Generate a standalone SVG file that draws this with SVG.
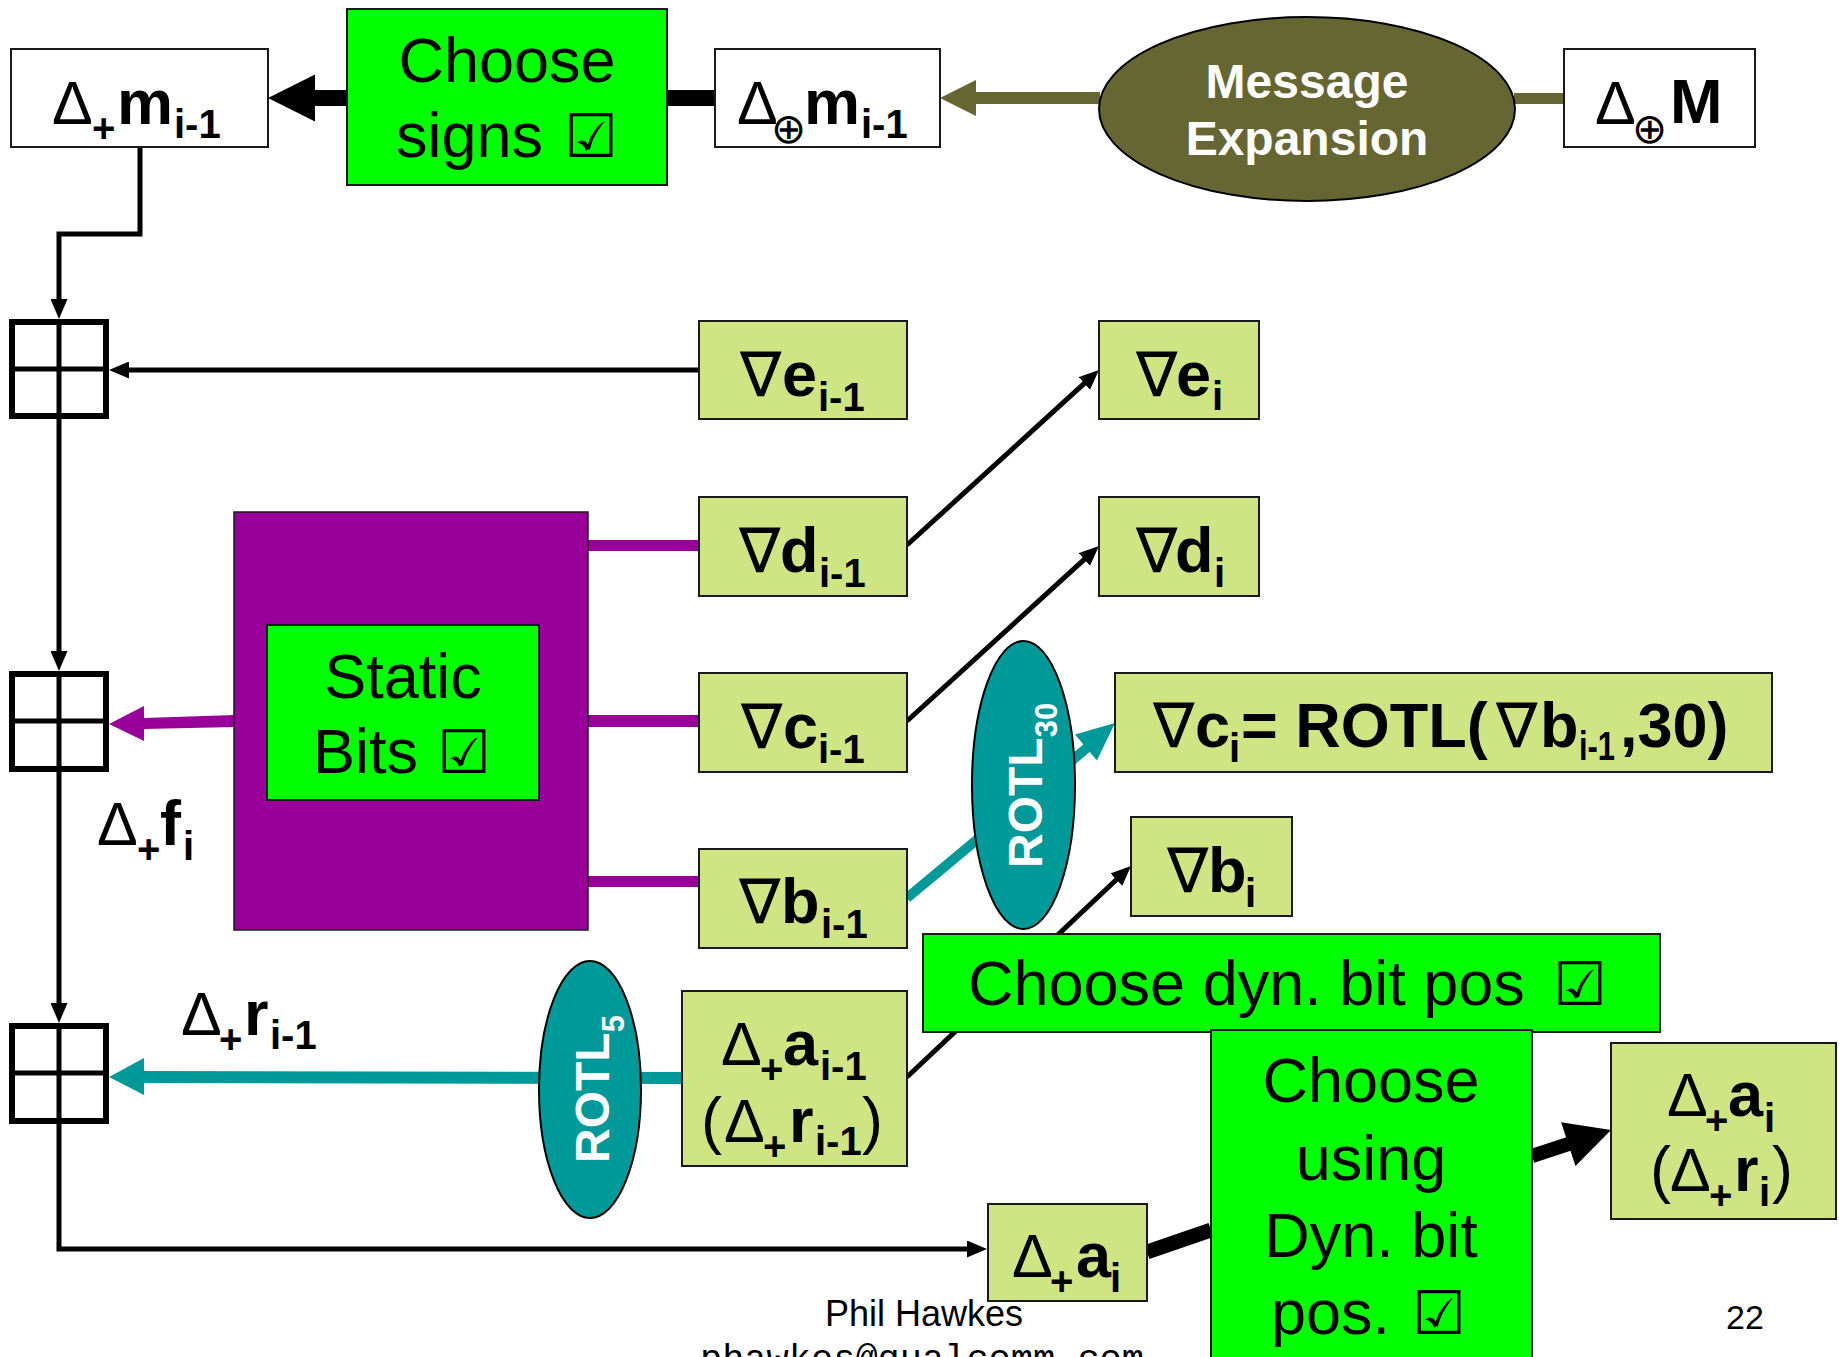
<svg xmlns="http://www.w3.org/2000/svg" width="1839" height="1357" viewBox="0 0 1839 1357">
<defs>
<style>
.box{stroke:#1a1a1a;stroke-width:2}
.w{fill:#fff}
.g{fill:#00ff00}
.lg{fill:#cfe584}
text{font-family:"Liberation Sans",Arial,sans-serif;fill:#000}
.t{font-size:63px}
.bd{font-weight:bold}
.d{font-size:61px;font-weight:normal}
.nab{font-family:"DejaVu Sans",sans-serif;font-size:62px;font-weight:normal}
.sub{font-size:40px;font-weight:bold}
.chk{font-family:"DejaVu Sans",sans-serif;font-size:60px;font-weight:normal}
.ox{font-family:"DejaVu Sans",sans-serif;font-size:42px;font-weight:normal}
.mid{text-anchor:middle}
.wt{fill:#fff;font-weight:bold}
.conn{fill:none;stroke:#000;stroke-width:5}
.adder{fill:#fff;stroke:#000;stroke-width:6}
.cross{stroke:#000;stroke-width:5}
</style>
<marker id="ah" markerUnits="userSpaceOnUse" markerWidth="20" markerHeight="17" refX="2" refY="8.5" orient="auto"><path d="M0,0 L20,8.5 L0,17 Z" fill="#000"/></marker>
</defs>
<rect width="1839" height="1357" fill="#fff"/>

<g id="connectors">
  <path class="conn" d="M140,147 V234 H59 V301" marker-end="url(#ah)"/>
  <path class="conn" d="M699,370 H127" marker-end="url(#ah)"/>
  <path class="conn" d="M59,419 V653" marker-end="url(#ah)"/>
  <path class="conn" d="M59,772 V1005" marker-end="url(#ah)"/>
  <path class="conn" d="M59,1124 V1249 H969" marker-end="url(#ah)"/>
  <path class="conn" stroke-width="4.5" d="M907,545 L1085.7,382.1" marker-end="url(#ah)"/>
  <path class="conn" stroke-width="4.5" d="M907,721 L1085.7,558.1" marker-end="url(#ah)"/>
  <path class="conn" stroke-width="4.5" d="M907,1077 L1117.9,878.3" marker-end="url(#ah)"/>
  <path d="M347,90 H315 V74.5 L268,98 L315,121.5 V106 H347 Z" fill="#000"/>
  <rect x="667" y="90" width="48" height="16" fill="#000"/>
  <path d="M1147,1252 L1211,1230" stroke="#000" stroke-width="15" fill="none"/>
  <path d="M1532,1156 L1570,1143.5" stroke="#000" stroke-width="14" fill="none"/>
  <polygon points="1611,1130 1575.5,1166 1561.1,1122.2" fill="#000"/>
  <path d="M1100,92 H976 V80 L940,98 L976,116 V104 H1100 Z" fill="#666633"/>
  <rect x="1514" y="93" width="51" height="11" fill="#666633"/>
  <rect x="587" y="540" width="113" height="11" fill="#990099"/>
  <rect x="587" y="715" width="113" height="12" fill="#990099"/>
  <rect x="587" y="876" width="113" height="11" fill="#990099"/>
  <path d="M235,715 L144,718 V706 L109,724 L144,741 V729 L235,727 Z" fill="#990099"/>
  <path d="M683,1072 L144,1071 V1058 L109,1077 L144,1095 V1083 L683,1084 Z" fill="#009999"/>
  <path d="M907,898 L1088,747" stroke="#009999" stroke-width="10" fill="none"/>
  <polygon points="1115,723 1096.9,760.5 1075,734.5" fill="#009999"/>
</g>

<g id="dm_prev">
  <rect class="box w" x="11" y="49" width="257" height="98"/>
  <text class="t"><tspan class="d" x="52" y="124">Δ</tspan><tspan class="sub" x="92" y="142">+</tspan><tspan class="bd" x="117" y="124">m</tspan><tspan class="sub" x="174" y="138">i-1</tspan></text>
</g>

<g id="choose_signs">
  <rect class="box g" x="347" y="9" width="320" height="176"/>
  <text class="t mid" x="507" y="82">Choose</text>
  <text class="t"><tspan x="396" y="157">signs</tspan><tspan class="chk" x="564" y="157">☑</tspan></text>
</g>

<g id="dxm_prev">
  <rect class="box w" x="715" y="49" width="225" height="98"/>
  <text class="t"><tspan class="d" x="737" y="124">Δ</tspan><tspan class="ox" x="771" y="143">⊕</tspan><tspan class="bd" x="804" y="124">m</tspan><tspan class="sub" x="861" y="138">i-1</tspan></text>
</g>

<g id="msg_exp">
  <ellipse cx="1307" cy="109" rx="208" ry="92" fill="#666633" stroke="#000" stroke-width="2"/>
  <text class="wt mid" font-size="48" x="1307" y="98">Message</text>
  <text class="wt mid" font-size="48" x="1307" y="155">Expansion</text>
</g>

<g id="dxM">
  <rect class="box w" x="1564" y="49" width="191" height="98"/>
  <text class="t"><tspan class="d" x="1595" y="124">Δ</tspan><tspan class="ox" x="1632" y="143">⊕</tspan><tspan class="bd" x="1670" y="123">M</tspan></text>
</g>

<g id="adder1">
  <rect class="adder" x="12" y="322" width="94" height="94"/>
  <path class="cross" d="M59,322 V416 M12,369 H106"/>
</g>
<g id="adder2">
  <rect class="adder" x="12" y="674" width="94" height="95"/>
  <path class="cross" d="M59,674 V769 M12,721 H106"/>
</g>
<g id="adder3">
  <rect class="adder" x="12" y="1026" width="94" height="95"/>
  <path class="cross" d="M59,1026 V1121 M12,1073 H106"/>
</g>

<g id="e_prev">
  <rect class="box lg" x="699" y="321" width="208" height="98"/>
  <text class="t"><tspan class="nab" x="740" y="396">∇</tspan><tspan class="bd" x="782" y="396">e</tspan><tspan class="sub" x="818" y="411">i-1</tspan></text>
</g>
<g id="d_prev">
  <rect class="box lg" x="699" y="497" width="208" height="99"/>
  <text class="t"><tspan class="nab" x="739" y="572">∇</tspan><tspan class="bd" x="780" y="572">d</tspan><tspan class="sub" x="819" y="587">i-1</tspan></text>
</g>
<g id="c_prev">
  <rect class="box lg" x="699" y="673" width="208" height="99"/>
  <text class="t"><tspan class="nab" x="741" y="748">∇</tspan><tspan class="bd" x="783" y="748">c</tspan><tspan class="sub" x="818" y="763">i-1</tspan></text>
</g>
<g id="b_prev">
  <rect class="box lg" x="699" y="849" width="208" height="99"/>
  <text class="t"><tspan class="nab" x="739" y="923">∇</tspan><tspan class="bd" x="781" y="923">b</tspan><tspan class="sub" x="821" y="938">i-1</tspan></text>
</g>

<g id="e_i">
  <rect class="box lg" x="1099" y="321" width="160" height="98"/>
  <text class="t"><tspan class="nab" x="1136" y="396">∇</tspan><tspan class="bd" x="1176" y="396">e</tspan><tspan class="sub" x="1212" y="410">i</tspan></text>
</g>
<g id="d_i">
  <rect class="box lg" x="1099" y="497" width="160" height="99"/>
  <text class="t"><tspan class="nab" x="1136" y="572">∇</tspan><tspan class="bd" x="1175" y="572">d</tspan><tspan class="sub" x="1214" y="587">i</tspan></text>
</g>
<g id="c_i">
  <rect class="box lg" x="1115" y="673" width="657" height="99"/>
  <text class="t"><tspan class="nab" x="1153" y="747">∇</tspan><tspan class="bd" x="1195" y="747">c</tspan><tspan class="sub" x="1229" y="762">i</tspan><tspan class="bd" x="1241" y="747">= ROTL(</tspan><tspan class="nab" x="1496" y="747">∇</tspan><tspan class="bd" x="1540" y="747">b</tspan><tspan class="sub" x="1579" y="760" textLength="36" lengthAdjust="spacingAndGlyphs">i-1</tspan><tspan class="bd" x="1620" y="747">,30)</tspan></text>
</g>
<g id="b_i">
  <rect class="box lg" x="1131" y="817" width="161" height="99"/>
  <text class="t"><tspan class="nab" x="1167" y="892">∇</tspan><tspan class="bd" x="1208" y="892">b</tspan><tspan class="sub" x="1245" y="907">i</tspan></text>
</g>

<g id="static_bits">
  <rect x="234" y="512" width="354" height="418" fill="#990099" stroke="#1a1a1a" stroke-width="1.5"/>
  <rect class="box g" x="267" y="625" width="272" height="175"/>
  <text class="t mid" x="403" y="698">Static</text>
  <text class="t"><tspan x="313" y="773">Bits</tspan><tspan class="chk" x="437" y="773">☑</tspan></text>
</g>

<g id="f_label">
  <text class="t"><tspan class="d" x="97" y="845">Δ</tspan><tspan class="sub" x="137" y="863">+</tspan><tspan class="bd" x="160" y="845">f</tspan><tspan class="sub" x="183" y="860">i</tspan></text>
</g>
<g id="r_label">
  <text class="t"><tspan class="d" x="181" y="1035">Δ</tspan><tspan class="sub" x="219" y="1053">+</tspan><tspan class="bd" x="244" y="1035">r</tspan><tspan class="sub" x="270" y="1049">i-1</tspan></text>
</g>

<g id="rotl30">
  <ellipse cx="1023.5" cy="785" rx="51.5" ry="144" fill="#009999" stroke="#000" stroke-width="2"/>
  <text class="wt" font-size="48" transform="translate(1042,868) rotate(-90)">ROTL<tspan font-size="31" dy="15">30</tspan></text>
</g>
<g id="rotl5">
  <ellipse cx="590" cy="1089.5" rx="51" ry="128.5" fill="#009999" stroke="#000" stroke-width="2"/>
  <text class="wt" font-size="48" transform="translate(609,1163) rotate(-90)">ROTL<tspan font-size="31" dy="15">5</tspan></text>
</g>

<g id="a_prev">
  <rect class="box lg" x="682" y="991" width="225" height="175"/>
  <text class="t"><tspan class="d" x="721" y="1065">Δ</tspan><tspan class="sub" x="760" y="1083">+</tspan><tspan class="bd" x="783" y="1065">a</tspan><tspan class="sub" x="820" y="1080">i-1</tspan></text>
  <text class="t"><tspan x="701" y="1142">(</tspan><tspan class="d" x="724" y="1142">Δ</tspan><tspan class="sub" x="763" y="1160">+</tspan><tspan class="bd" x="789" y="1142">r</tspan><tspan class="sub" x="815" y="1155">i-1</tspan><tspan x="862" y="1142">)</tspan></text>
</g>

<g id="dyn_pos">
  <rect class="box g" x="923" y="934" width="737" height="98"/>
  <text class="t"><tspan x="968" y="1005">Choose dyn. bit pos</tspan><tspan class="chk" x="1553" y="1005">☑</tspan></text>
</g>

<g id="choose_using">
  <rect class="box g" x="1211" y="1030" width="321" height="345"/>
  <text class="t mid" x="1371" y="1102">Choose</text>
  <text class="t mid" x="1371" y="1180">using</text>
  <text class="t mid" x="1371" y="1257">Dyn. bit</text>
  <text class="t"><tspan x="1271" y="1334">pos.</tspan><tspan class="chk" x="1412" y="1334">☑</tspan></text>
</g>

<g id="a_i_box">
  <rect class="box lg" x="1611" y="1043" width="225" height="176"/>
  <text class="t"><tspan class="d" x="1667" y="1116">Δ</tspan><tspan class="sub" x="1705" y="1134">+</tspan><tspan class="bd" x="1728" y="1116">a</tspan><tspan class="sub" x="1764" y="1132">i</tspan></text>
  <text class="t"><tspan x="1650" y="1191">(</tspan><tspan class="d" x="1670" y="1191">Δ</tspan><tspan class="sub" x="1709" y="1209">+</tspan><tspan class="bd" x="1734" y="1191">r</tspan><tspan class="sub" x="1759" y="1206">i</tspan><tspan x="1772" y="1191">)</tspan></text>
</g>

<g id="a_i">
  <rect class="box lg" x="988" y="1204" width="159" height="97"/>
  <text class="t"><tspan class="d" x="1012" y="1277">Δ</tspan><tspan class="sub" x="1050" y="1295">+</tspan><tspan class="bd" x="1076" y="1277">a</tspan><tspan class="sub" x="1110" y="1292">i</tspan></text>
</g>

<g id="footer">
  <text font-size="36" text-anchor="middle" x="924" y="1326">Phil Hawkes</text>
  <text style="font-family:'Liberation Mono',monospace" font-size="37" text-anchor="middle" x="922" y="1370">phawkes@qualcomm.com</text>
  <text font-size="34" x="1726" y="1329">22</text>
</g>
</svg>
